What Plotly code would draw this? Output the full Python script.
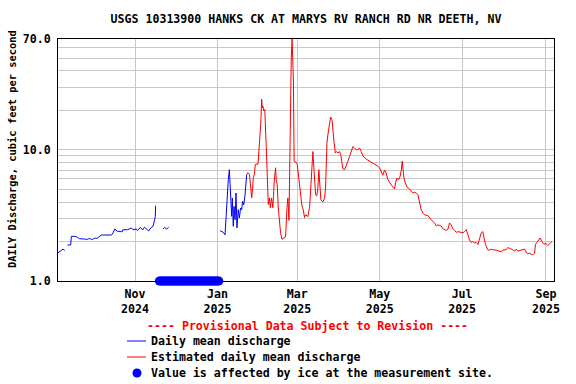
import pandas as pd
import plotly.graph_objects as go

TITLE = "USGS 10313900 HANKS CK AT MARYS RV RANCH RD NR DEETH, NV"
START = pd.Timestamp("2024-09-05")  # day 0 of the day lists below

# Daily mean discharge (approved, blue) -- days since START, cfs
blue_day = [0, 2.5, 3.7, 5.0, None, 7.0, 9.4, 9.9, 12.7, 14.5,
            16.0, 19.7, 21.0, 22.5, 24.0, 25.4, 27.0, 29.0, 30.3, 32.0,
            39.5, 40.7, 42.0, 43.0, 44.0, 46.5, 47.3, 48.0, 51.6, 54.3,
            55.5, 57.9, 58.6, 61.0, 62.6, 64.0, 65.6, 67.0, 69.0, 70.3,
            71.5, 72.0, 72.2, None, 77.7, 79.0, 80.3, 81.9, None, 119.9,
            121.1, 122.3, 123.6, 124.1, 124.8, 125.5, 126.0, 126.8, 127.3, 127.8,
            128.5, 129.0, 129.7, 130.2, 131.0, 131.7, 132.4, 133.4, 134.2, 135.1,
            135.9, 136.6, 137.4, 138.3, 139.1, 139.6]
blue_q = [1.64, 1.71, 1.75, 1.71, None, 1.88, 1.88, 2.19, 2.19, 2.15,
          2.10, 2.09, 2.07, 2.10, 2.10, 2.07, 2.12, 2.12, 2.17, 2.24,
          2.24, 2.32, 2.49, 2.43, 2.39, 2.39, 2.36, 2.46, 2.46, 2.54,
          2.46, 2.49, 2.43, 2.56, 2.45, 2.57, 2.47, 2.41, 2.56, 2.61,
          2.93, 3.11, 3.75, None, 2.49, 2.56, 2.49, 2.56, None, 2.42,
          2.38, 2.35, 2.25, 2.77, 3.93, 4.97, 5.92, 7.06, 5.58, 4.05,
          3.11, 4.29, 2.61, 3.70, 2.93, 4.69, 2.54, 3.50, 3.02, 3.60,
          3.50, 4.05, 3.80, 4.42, 5.92, 6.46]

# Estimated daily mean discharge (red) -- days since START, cfs
red_day = [139.6, 140.5, 141.7, 142.5, 143.3, 144.0, 144.5, 145.3, 146.0, 148.0,
           148.5, 149.3, 150.0, 150.7, 151.2, 151.6, 152.3, 153.0, 154.1, 154.8,
           155.6, 156.4, 157.1, 158.0, 159.0, 160.0, 161.0, 161.5, 162.2, 163.0,
           163.9, 164.7, 165.7, 167.0, 168.4, 169.4, 170.1, 170.9, 171.4, 171.9,
           172.6, 173.2, 173.7, 174.2, 174.7, 176.4, 177.0, 178.0, 179.5, 180.5,
           181.5, 182.4, 183.2, 184.9, 186.2, 187.4, 188.1, 188.6, 189.1, 189.9,
           190.6, 191.5, 192.3, 193.0, 194.0, 194.5, 196.0, 197.3, 198.0, 198.5,
           199.0, 199.7, 200.9, 201.7, 202.7, 203.3, 204.3, 205.2, 205.9, 207.2,
           208.4, 209.2, 210.0, 210.8, 212.1, 213.3, 214.5, 215.7, 217.0, 218.2,
           219.5, 220.7, 221.9, 223.2, 224.4, 225.6, 228.0, 230.5, 233.0, 234.2,
           236.7, 238.0, 239.3, 240.3, 241.6, 242.8, 244.1, 245.4, 246.6, 247.8,
           249.0, 249.8, 250.7, 252.0, 253.2, 254.0, 254.7, 255.5, 256.0, 257.0,
           258.2, 259.5, 261.4, 262.6, 263.8, 265.0, 266.3, 267.5, 268.7, 270.0,
           271.2, 273.7, 275.0, 276.2, 278.7, 279.9, 281.0, 283.5, 284.8, 287.2,
           288.5, 289.7, 290.9, 292.2, 293.4, 294.7, 295.9, 297.1, 298.4, 299.6,
           300.8, 302.0, 303.2, 304.5, 305.7, 307.0, 308.2, 309.4, 310.7, 311.9,
           313.1, 314.3, 315.1, 316.3, 318.0, 319.3, 320.5, 321.8, 324.2, 326.7,
           327.9, 329.2, 331.6, 332.8, 334.1, 336.5, 337.8, 339.0, 340.2, 341.5,
           343.9, 345.2, 346.4, 347.6, 348.9, 350.1, 351.3, 352.6, 353.3, 354.3,
           355.8, 356.8, 358.0, 359.3, 361.2, 362.4, 363.7, 364.9, 365.5]
red_q = [6.46, 6.69, 6.50, 5.45, 4.30, 5.10, 6.13, 6.50, 7.74, 7.80,
         9.23, 12.7, 15.6, 24.3, 20.9, 21.5, 19.8, 20.3, 10.4, 5.14,
         3.84, 4.30, 3.62, 4.30, 3.62, 5.79, 7.30, 5.80, 5.45, 3.60,
         2.78, 2.33, 2.08, 2.12, 2.17, 3.60, 4.30, 2.90, 8.20, 31.5,
         50.4, 70.0, 53.0, 33.5, 8.20, 8.00, 7.74, 6.13, 4.71, 3.73,
         3.50, 3.04, 3.20, 3.10, 3.70, 6.85, 9.46, 9.70, 7.94, 5.92,
         4.55, 4.45, 5.10, 7.06, 5.20, 4.17, 4.00, 4.30, 5.20, 8.20,
         11.3, 13.0, 15.1, 17.8, 17.1, 14.2, 11.3, 9.46, 9.70, 9.50,
         9.70, 9.18, 7.94, 7.18, 7.06, 7.50, 8.20, 8.90, 9.70, 10.6,
         10.3, 10.0, 10.1, 10.3, 9.70, 9.00, 8.50, 8.20, 7.94, 7.84,
         7.50, 7.27, 6.66, 6.40, 7.00, 6.66, 5.92, 5.70, 5.40, 5.20,
         5.03, 5.60, 6.10, 5.90, 6.30, 7.00, 8.20, 6.80, 6.10, 5.60,
         5.20, 5.10, 4.90, 4.70, 4.75, 4.70, 4.55, 3.93, 3.50, 3.30,
         3.20, 3.15, 3.00, 2.93, 2.76, 2.63, 2.68, 2.63, 2.50, 2.43,
         2.48, 2.77, 2.68, 2.50, 2.43, 2.35, 2.38, 2.36, 2.33, 2.33,
         2.38, 2.46, 2.27, 2.06, 1.97, 2.00, 1.95, 1.97, 1.90, 2.06,
         2.32, 2.38, 2.17, 1.90, 1.73, 1.72, 1.75, 1.73, 1.72, 1.69,
         1.67, 1.72, 1.73, 1.80, 1.78, 1.73, 1.69, 1.75, 1.69, 1.70,
         1.72, 1.75, 1.66, 1.61, 1.63, 1.61, 1.58, 1.63, 1.90, 1.97,
         2.06, 2.13, 2.00, 1.92, 1.92, 1.87, 1.92, 1.98, 2.00]

# Days affected by ice (flag drawn on the 1.0 baseline)
ice_first, ice_last = "2024-11-19", "2025-01-02"
ice_level = 1.0

x_range = ["2024-09-05", "2025-09-07"]
x_tick_vals = ["2024-11-01", "2025-01-01", "2025-03-01", "2025-05-01", "2025-07-01", "2025-09-01"]
x_tick_text = ["Nov<br>2024", "Jan<br>2025", "Mar<br>2025", "May<br>2025", "Jul<br>2025", "Sep<br>2025"]
y_tick_vals = [1, 10, 70]
y_tick_text = ["1.0", "10.0", "70.0"]
y_minor_vals = [2, 3, 4, 5, 6, 7, 8, 9, 20, 30, 40, 50, 60]

legend_labels = ["Daily mean discharge", "Estimated daily mean discharge",
                 "Value is affected by ice at the measurement site."]
provisional = "---- Provisional Data Subject to Revision ----"


def to_dates(days):
    return [None if d is None else START + pd.Timedelta(days=d) for d in days]


ice_dates = pd.date_range(ice_first, ice_last, freq="D")

MONO = "DejaVu Sans Mono"
BLUE = "#0000ff"
RED = "#ff0000"
GRID = "#c8c8c8"
FS = 11.6

fig = go.Figure()
fig.add_trace(go.Scatter(x=to_dates(blue_day), y=blue_q, mode="lines",
                         line=dict(color=BLUE, width=1), connectgaps=False,
                         showlegend=False))
fig.add_trace(go.Scatter(x=to_dates(red_day), y=red_q, mode="lines",
                         line=dict(color=RED, width=1), showlegend=False))
fig.add_trace(go.Scatter(x=ice_dates, y=[ice_level] * len(ice_dates), mode="markers",
                         marker=dict(color=BLUE, size=9, line=dict(width=0)),
                         cliponaxis=False, showlegend=False))

# plot area in pixels
L, R, T, B = 58, 554, 39, 281
W, H = R - L, B - T


def px(x):
    return (x - L) / W


def py(y):
    return (B - y) / H


font = dict(family=MONO, size=FS, color="black", weight="bold")

annotations = [
    dict(text="DAILY Discharge, cubic feet per second", x=px(12), y=py(149),
         xref="paper", yref="paper", textangle=-90, showarrow=False,
         font=dict(family=MONO, size=10.4, color="black", weight="bold"),
         xanchor="center", yanchor="middle"),
    dict(text=provisional, x=px(307), y=py(326), xref="paper", yref="paper",
         showarrow=False, font=dict(family=MONO, size=FS, color=RED, weight="bold"),
         xanchor="center", yanchor="middle"),
]
for lab, yy in zip(legend_labels, [341, 357, 373]):
    annotations.append(dict(text=lab, x=px(149), y=py(yy), xref="paper", yref="paper",
                            showarrow=False, font=font, xanchor="left", yanchor="middle"))

shapes = [
    dict(type="line", xref="paper", yref="paper", x0=px(127), x1=px(146),
         y0=py(341), y1=py(341), line=dict(color=BLUE, width=1)),
    dict(type="line", xref="paper", yref="paper", x0=px(127), x1=px(146),
         y0=py(357), y1=py(357), line=dict(color=RED, width=1)),
    dict(type="circle", xref="paper", yref="paper", x0=px(132.5), x1=px(141.5),
         y0=py(368.5), y1=py(377.5), fillcolor=BLUE, line=dict(color=BLUE, width=0)),
]

fig.update_layout(
    width=576, height=384,
    margin=dict(l=L, r=576 - R, t=T, b=384 - B, pad=0),
    paper_bgcolor="white", plot_bgcolor="white",
    title=dict(text=TITLE, x=px(306), xref="paper", xanchor="center",
               y=1 - 19 / 384, yref="container", yanchor="middle", font=font),
    showlegend=False,
    annotations=annotations,
    shapes=shapes,
)
fig.update_xaxes(type="date", range=x_range, tickmode="array", tickvals=x_tick_vals,
                 ticktext=x_tick_text, showgrid=True, gridcolor=GRID, gridwidth=1,
                 showline=True, linecolor="black", linewidth=1, mirror=True,
                 ticks="", tickfont=font, zeroline=False, ticklabelstandoff=2)
fig.update_yaxes(type="log", range=[0, 1.8451], tickmode="array", tickvals=y_tick_vals,
                 ticktext=y_tick_text, showgrid=True, gridcolor=GRID, gridwidth=1,
                 minor=dict(tickmode="array", tickvals=y_minor_vals, showgrid=True,
                            gridcolor=GRID, gridwidth=1, ticks=""),
                 showline=True, linecolor="black", linewidth=1, mirror=True,
                 ticks="", tickfont=font, zeroline=False, ticklabelstandoff=4)

fig.write_html("out.html", config={"displayModeBar": False},
               post_script="document.body.style.margin='0';document.body.style.overflow='hidden';")
